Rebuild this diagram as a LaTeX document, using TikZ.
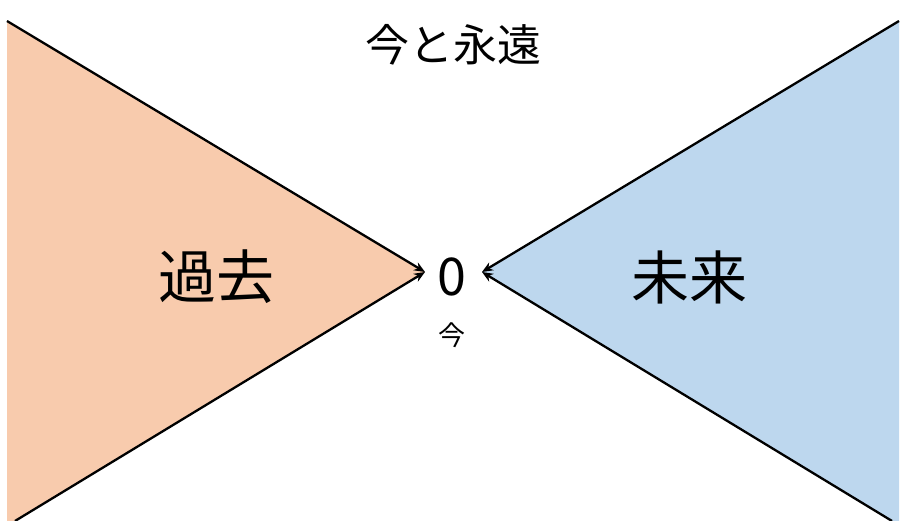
\documentclass[tikz,border=0pt]{standalone}
\usepackage{fontspec}
\newfontfamily\jpfont{Noto Sans CJK JP}
\usetikzlibrary{arrows.meta}
\definecolor{pastfill}{HTML}{F8CBAD}
\definecolor{futurefill}{HTML}{BDD7EE}
\tikzset{
  edge/.style={line width=2.3pt, -{Stealth[length=11pt,width=9pt]}},
  label/.style={font=\jpfont, inner sep=0pt}
}

\begin{document}
\begin{tikzpicture}[x=1pt, y=-1pt]
  % Frame
  \useasboundingbox (0,0) rectangle (909,521);
  % Corners and apexes
  \coordinate (pasttop) at (7,21);
  \coordinate (pastbottom) at (15,521);
  \coordinate (pastapex) at (425,272);
  \coordinate (futuretop) at (899,21);
  \coordinate (futurebottom) at (892,521);
  \coordinate (futureapex) at (482,272);
  % Fills
  \fill[pastfill] (pasttop) -- (pastapex) -- (pastbottom) -- (7,521) -- cycle;
  \fill[futurefill] (futuretop) -- (futureapex) -- (futurebottom) -- (899,521) -- cycle;
  % Edges
  \draw[edge] (pasttop) -- (pastapex);
  \draw[edge] (pastbottom) -- (pastapex);
  \draw[edge] (futuretop) -- (futureapex);
  \draw[edge] (futurebottom) -- (futureapex);
  % Labels
  \node[label, font=\jpfont\fontsize{44}{48}\selectfont] (title) at (453,45) {今と永遠};
  \node[label, font=\jpfont\fontsize{58}{62}\selectfont] (past) at (216,277) {過去};
  \node[label, font=\jpfont\fontsize{58}{62}\selectfont] (future) at (689,277) {未来};
  \node[label, font=\jpfont\fontsize{52}{56}\selectfont] (zero) at (452,277) {0};
  \node[label, font=\jpfont\fontsize{27}{30}\selectfont] (now) at (452,335) {今};
\end{tikzpicture}
\end{document}
